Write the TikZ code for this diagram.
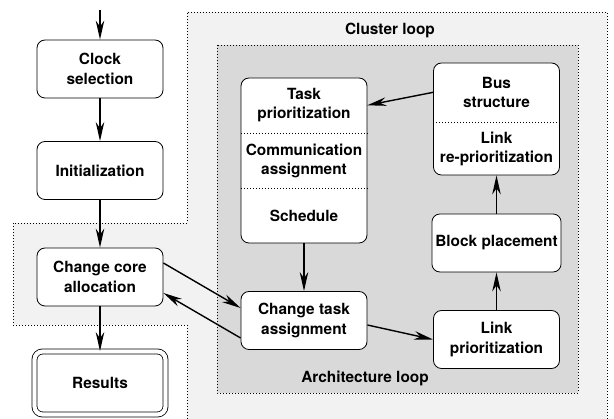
\documentclass[tikz,border=0pt]{standalone}
\usepackage{fontspec}
\setmainfont{TeX Gyre Heros}
\usepackage{tikz}
\usetikzlibrary{arrows.meta,positioning}
\definecolor{clustergray}{gray}{0.95}
\definecolor{archgray}{gray}{0.85}

\begin{document}
\begin{tikzpicture}[
    x = 1pt, y = -1pt,
    on grid,
    node distance = 105pt
  ]
  \tikzstyle{block} = [
    draw, rectangle,
    rounded corners = 8pt,
    fill           = white,
    line width     = 0.8pt,
    text centered,
    align          = center,
    font           = \bfseries\fontsize{15.4}{19.5}\selectfont,
    minimum width  = 126pt,
    minimum height = 58pt
  ]
  \tikzstyle{part}  = [
    rectangle,
    text centered,
    align          = center,
    inner sep      = 0pt,
    font           = \bfseries\fontsize{15.4}{19.5}\selectfont,
    minimum width  = 126pt
  ]
  \tikzstyle{result} = [
    block,
    double,
    double distance = 4.2pt,
    minimum width  = 131pt,
    minimum height = 63pt
  ]
  \tikzstyle{looplabel} = [font = \bfseries\fontsize{15.4}{19.5}\selectfont]
  \tikzstyle{arrow}   = [draw, line width = 1.4pt, -{Stealth[length=19pt, width=8.5pt, inset=6pt]}]
  \tikzstyle{divider} = [draw, line width = 0.8pt, dash pattern = on 0.8pt off 2.2pt]
  \tikzstyle{loopline} = [draw, line width = 0.7pt, dash pattern = on 0.7pt off 2.3pt]

  \useasboundingbox (0,0) rectangle (614,419);

  \fill [clustergray] (187,12) -- (607,12) -- (607,419) -- (187,419) -- (187,325)
    -- (13,325) -- (13,223) -- (187,223) -- cycle;
  \path [loopline] (187,419) -- (187,325) -- (13,325) -- (13,223) -- (187,223)
    -- (187,12) -- (607,12) -- (607,419);
  \path [loopline, fill = archgray] (217,45) rectangle (578,393);

  \node [looplabel] at (390,30)  (clusterlabel) {Cluster loop};
  \node [looplabel] at (365,378) (archlabel)    {Architecture loop};

  \coordinate (start) at (100,10);
  \node [block] at (100,69)               (clock)   {Clock\\selection};
  \node [block, below = 101.5pt of clock] (init)    {Initialization};
  \node [block, below = 106.5pt of init]  (core)    {Change core\\allocation};
  \node [result, below = 106pt of core]   (results) {Results};

  \node [block, minimum height = 165pt] at (304,160.5) (tasks) {};
  \node [part, minimum height = 55pt, anchor = north] at (tasks.north)     (taskprio)   {Task\\prioritization};
  \node [part, minimum height = 55pt, anchor = north] at (taskprio.south)  (commassign) {Communication\\assignment};
  \node [part, minimum height = 55pt, anchor = north] at (commassign.south) (schedule)  {Schedule};
  \path [divider] (taskprio.south west) -- (taskprio.south east);
  \path [divider] (commassign.south west) -- (commassign.south east);

  \node [block] at (304,320.5) (chtask) {Change task\\assignment};

  \node [block, minimum height = 112pt] at (496.5,119) (bus) {};
  \node [part, minimum height = 59pt, anchor = north] at (bus.north)       (busstruct)  {Bus\\structure};
  \node [part, minimum height = 53pt, anchor = north] at (busstruct.south) (linkreprio) {Link\\re-prioritization};
  \path [divider] (busstruct.south west) -- (busstruct.south east);

  \node [block] at (496.5,243)   (blockplace) {Block placement};
  \node [block] at (496.5,339.5) (linkprio)   {Link\\prioritization};

  \path [arrow] (start) -- (clock);
  \path [arrow] (clock) -- (init);
  \path [arrow] (init)  -- (core);
  \path [arrow] (core)  -- (results);
  \path [arrow] ([yshift=14pt]core.east) -- ([yshift=12.5pt]chtask.west);
  \path [arrow] ([yshift=-17.5pt]chtask.west) -- ([yshift=-16pt]core.east);
  \path [arrow] (tasks) -- (chtask);
  \path [arrow] ([yshift=-4.5pt]chtask.east) -- (linkprio.west);
  \path [arrow] (linkprio) -- (blockplace);
  \path [arrow] (blockplace) -- (bus);
  \path [arrow] (busstruct.west) -- (taskprio.east);
\end{tikzpicture}
\end{document}
